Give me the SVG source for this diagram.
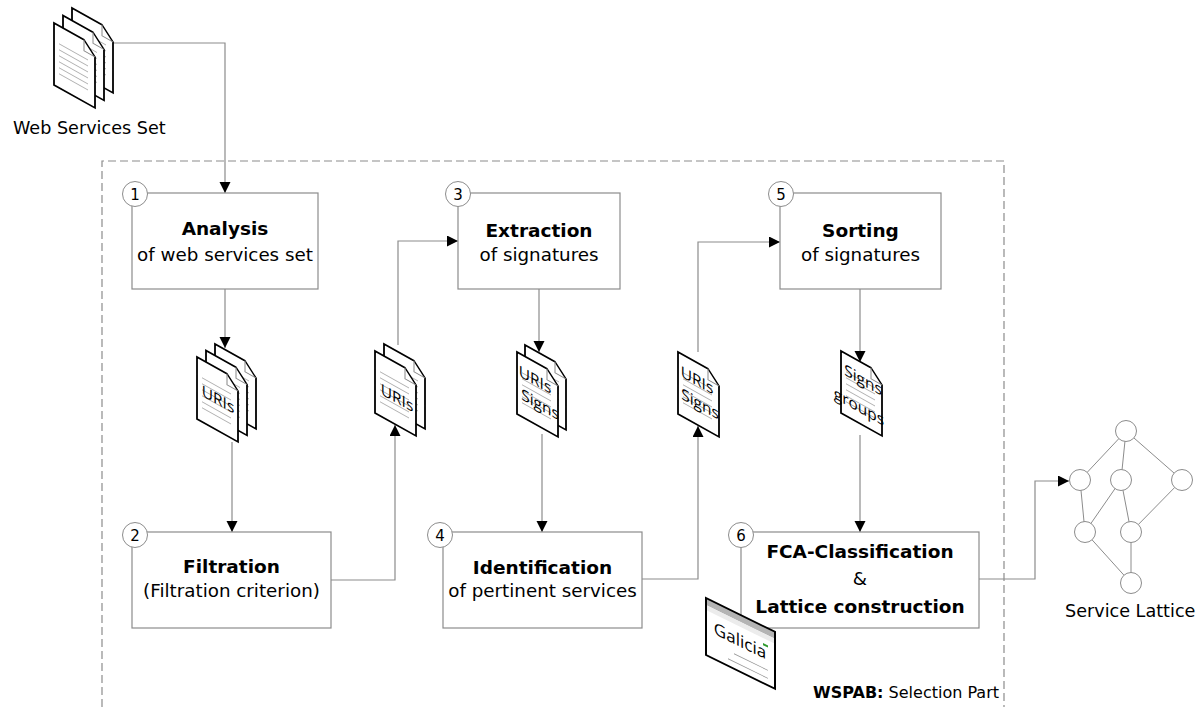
<svg xmlns="http://www.w3.org/2000/svg" xmlns:xlink="http://www.w3.org/1999/xlink" width="1204" height="707" viewBox="0 0 1204 707">
<style>
.box{fill:#fff;stroke:#8c8c8c;stroke-width:1.2}
.num{fill:#fff;stroke:#8c8c8c;stroke-width:1}
.numt{font-family:"DejaVu Sans",sans-serif;font-size:15px;fill:#000;text-anchor:middle}
.tb{font-family:"DejaVu Sans",sans-serif;font-weight:bold;font-size:18.5px;fill:#000;text-anchor:middle}
.tr{font-family:"DejaVu Sans",sans-serif;font-size:18.3px;fill:#000;text-anchor:middle}
.lbl{font-family:"DejaVu Sans",sans-serif;font-size:17.6px;fill:#000}
.con{fill:none;stroke:#8c8c8c;stroke-width:1.2}
.pg{fill:#fff;stroke:#000;stroke-width:1.8;stroke-linejoin:miter}
.fold{fill:none;stroke:#888;stroke-width:1}
.ln{stroke:#b0b0b0;stroke-width:0.9}
.dt{font-family:"Open Sans",sans-serif;font-size:15.5px;fill:#000;text-anchor:middle}
.lc{fill:#fff;stroke:#8c8c8c;stroke-width:1}
.le{stroke:#8c8c8c;stroke-width:1}
</style>
<defs>
<marker id="ah" markerUnits="userSpaceOnUse" markerWidth="12" markerHeight="12" refX="11" refY="5.5" orient="auto">
<path d="M0,0 L11,5.5 L0,11 Z" fill="#000"/>
</marker>
<g id="page">
<path class="pg" d="M0,0 H30 L41,11 V62 H0 Z"/>
<path class="fold" d="M30,0 V11 H41"/>
<path class="ln" d="M5,18 H34 M5,24 H34 M5,30 H34 M5,36 H34 M5,42 H34 M5,48 H34"/>
</g>
</defs>

<rect width="1204" height="707" fill="#fff"/>

<!-- frame -->
<g id="frame">
<path d="M102,707 V161 H1004 V707" fill="none" stroke="#8c8c8c" stroke-width="1.2" stroke-dasharray="8 4"/>
<text x="999" y="698" text-anchor="end" font-family="DejaVu Sans, sans-serif" font-size="16px"><tspan font-weight="bold">WSPAB:</tspan> Selection Part</text>
</g>

<!-- connectors -->
<g id="connectors">
<path class="con" d="M113,43 H225 V193" marker-end="url(#ah)"/>
<path class="con" d="M225,289 V348" marker-end="url(#ah)"/>
<path class="con" d="M232,442 V532" marker-end="url(#ah)"/>
<path class="con" d="M331,580 H395 V425" marker-end="url(#ah)"/>
<path class="con" d="M398,345 V241 H458" marker-end="url(#ah)"/>
<path class="con" d="M539,289 V352" marker-end="url(#ah)"/>
<path class="con" d="M542,434 V532" marker-end="url(#ah)"/>
<path class="con" d="M642,579 H698 V426" marker-end="url(#ah)"/>
<path class="con" d="M698,352 V242 H780" marker-end="url(#ah)"/>
<path class="con" d="M860,289 V362" marker-end="url(#ah)"/>
<path class="con" d="M860,435 V532" marker-end="url(#ah)"/>
<path class="con" d="M979,579 H1035 V481 H1069" marker-end="url(#ah)"/>
</g>

<!-- web services set -->
<g id="web-services-set">
<use xlink:href="#page" transform="matrix(1,0.56,0,1,72,8)"/>
<use xlink:href="#page" transform="matrix(1,0.56,0,1,63,15.5)"/>
<use xlink:href="#page" transform="matrix(1,0.56,0,1,54,23)"/>
<text class="lbl" x="13" y="134">Web Services Set</text>
</g>

<!-- node 1 -->
<g id="node1">
<rect class="box" x="132" y="193" width="186" height="96"/>
<circle class="num" cx="135" cy="194" r="12.5"/>
<text class="numt" x="135" y="199.5">1</text>
<text class="tb" x="225" y="235">Analysis</text>
<text class="tr" x="225" y="261">of web services set</text>
</g>

<!-- URIs stack 3 -->
<g id="doc-uris-1">
<use xlink:href="#page" transform="matrix(1,0.56,0,1,215,344)"/>
<use xlink:href="#page" transform="matrix(1,0.56,0,1,206,350.5)"/>
<g transform="matrix(1,0.56,0,1,197,357)">
<use xlink:href="#page"/>
<text class="dt" x="21" y="36">URIs</text>
</g>
</g>

<!-- node 2 -->
<g id="node2">
<rect class="box" x="132" y="532" width="199" height="96"/>
<circle class="num" cx="135" cy="535" r="12.5"/>
<text class="numt" x="135" y="540.5">2</text>
<text class="tb" x="231.5" y="573">Filtration</text>
<text class="tr" x="231.5" y="597">(Filtration criterion)</text>
</g>

<!-- URIs stack 2 -->
<g id="doc-uris-2">
<use xlink:href="#page" transform="matrix(1,0.56,0,1,384,344)"/>
<g transform="matrix(1,0.56,0,1,375,351)">
<use xlink:href="#page"/>
<text class="dt" x="22" y="40">URIs</text>
</g>
</g>

<!-- node 3 -->
<g id="node3">
<rect class="box" x="458" y="193" width="162" height="96"/>
<circle class="num" cx="458" cy="194" r="12.5"/>
<text class="numt" x="458" y="199.5">3</text>
<text class="tb" x="539" y="237">Extraction</text>
<text class="tr" x="539" y="261">of signatures</text>
</g>

<!-- URIs Signs stack -->
<g id="doc-signs-1">
<use xlink:href="#page" transform="matrix(1,0.56,0,1,525,345)"/>
<g transform="matrix(1,0.56,0,1,517,352)">
<use xlink:href="#page"/>
<text class="dt" x="18" y="23">URIs</text>
<text class="dt" x="23" y="45">Signs</text>
</g>
</g>

<!-- node 4 -->
<g id="node4">
<rect class="box" x="443" y="532" width="199" height="96"/>
<circle class="num" cx="440" cy="535" r="12.5"/>
<text class="numt" x="440" y="540.5">4</text>
<text class="tb" x="542.5" y="574">Identification</text>
<text class="tr" x="542.5" y="597">of pertinent services</text>
</g>

<!-- URIs Signs single -->
<g id="doc-signs-2">
<g transform="matrix(1,0.56,0,1,678,352)">
<use xlink:href="#page"/>
<text class="dt" x="19" y="23">URIs</text>
<text class="dt" x="22" y="45">Signs</text>
</g>
</g>

<!-- node 5 -->
<g id="node5">
<rect class="box" x="780" y="193" width="161" height="96"/>
<circle class="num" cx="781" cy="194" r="12.5"/>
<text class="numt" x="781" y="199.5">5</text>
<text class="tb" x="860.5" y="237">Sorting</text>
<text class="tr" x="860.5" y="261">of signatures</text>
</g>

<!-- Signs groups -->
<g id="doc-groups">
<g transform="matrix(1,0.56,0,1,841,351)">
<use xlink:href="#page"/>
<text class="dt" x="22" y="22">Signs</text>
<text class="dt" x="18" y="51">groups</text>
</g>
</g>

<!-- node 6 -->
<g id="node6">
<rect class="box" x="741" y="532" width="238" height="96"/>
<circle class="num" cx="741" cy="535" r="12.5"/>
<text class="numt" x="741" y="540.5">6</text>
<text class="tb" x="860" y="558" font-size="19.5px">FCA-Classification</text>
<text class="tr" x="860" y="585" font-size="16px">&amp;</text>
<text class="tb" x="860" y="613" font-size="19.5px">Lattice construction</text>
</g>

<!-- Galicia -->
<g id="galicia" transform="matrix(1,0.49,0,1,706,598)">
<rect x="0" y="0" width="69" height="57" fill="#fff"/>
<rect x="0" y="0" width="69" height="7" fill="#b4b4b4"/>
<rect x="0" y="7" width="69" height="5" fill="#ececec"/>
<rect x="57" y="17" width="5" height="2.2" fill="#2e9a2e"/>
<text x="34" y="32" text-anchor="middle" font-family="Open Sans, sans-serif" font-size="17px" fill="#000">Galicia</text>
<path d="M28,42 H62 M22,50 H62" stroke="#999" stroke-width="0.9"/>
<rect x="0" y="0" width="69" height="57" fill="none" stroke="#000" stroke-width="2"/>
</g>

<!-- lattice -->
<g id="service-lattice">
<path class="le" d="M1126,431 L1080,480 M1126,431 L1121,480 M1126,431 L1182,480 M1080,480 L1085,532 M1121,480 L1085,532 M1121,480 L1131,532 M1182,480 L1131,532 M1085,532 L1131,583 M1131,532 L1131,583"/>
<circle class="lc" cx="1126" cy="431" r="10.5"/>
<circle class="lc" cx="1080" cy="480" r="10.5"/>
<circle class="lc" cx="1121" cy="480" r="10.5"/>
<circle class="lc" cx="1182" cy="480" r="10.5"/>
<circle class="lc" cx="1085" cy="532" r="10.5"/>
<circle class="lc" cx="1131" cy="532" r="10.5"/>
<circle class="lc" cx="1131" cy="583" r="10.5"/>
<text class="lbl" x="1065" y="617">Service Lattice</text>
</g>
</svg>
